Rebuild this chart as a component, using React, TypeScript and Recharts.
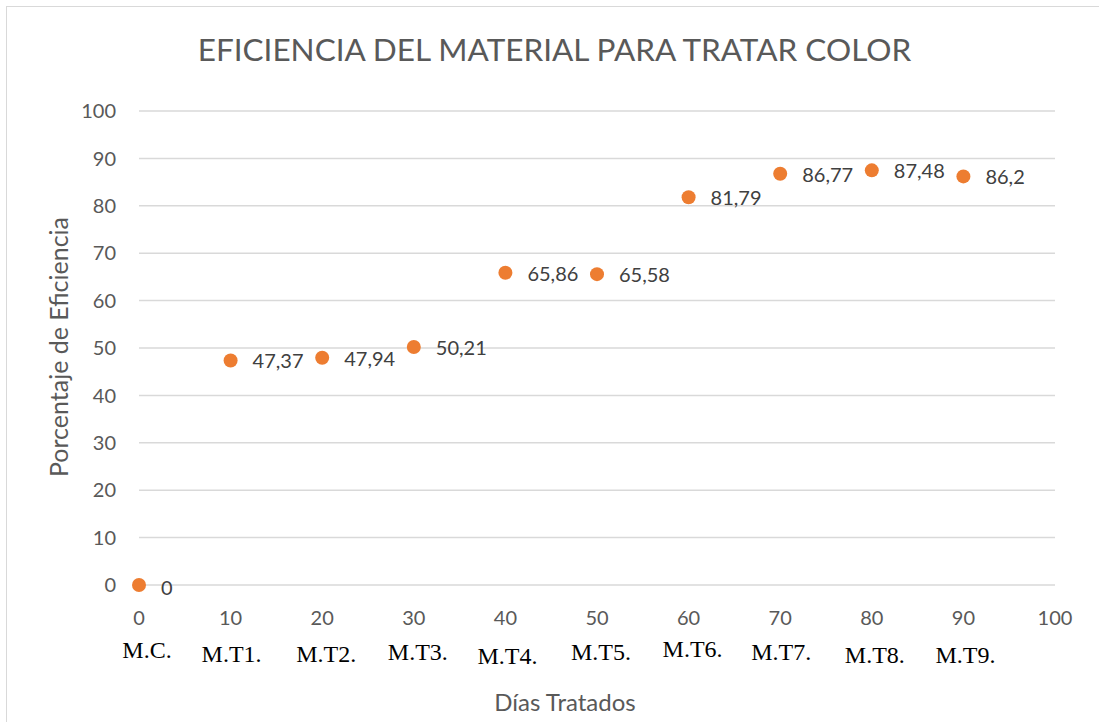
import React from "react";
import { ScatterChart, Scatter, XAxis, YAxis, CartesianGrid } from "recharts";

const days = [0, 10, 20, 30, 40, 50, 60, 70, 80, 90];
const efficiency = [0, 47.37, 47.94, 50.21, 65.86, 65.58, 81.79, 86.77, 87.48, 86.2];
const treatments = ["M.C.", "M.T1.", "M.T2.", "M.T3.", "M.T4.", "M.T5.", "M.T6.", "M.T7.", "M.T8.", "M.T9."];
const xTicks = [0, 10, 20, 30, 40, 50, 60, 70, 80, 90, 100];
const yTicks = [0, 10, 20, 30, 40, 50, 60, 70, 80, 90, 100];

// the treatment names sit in loose text boxes in the original, not exactly aligned
const treatmentNudge = [
  [8, 0], [1, 4], [4, 4], [4, 2], [2, 6], [4, 2], [4, -1], [1, 2], [3, 5], [2, 5],
];

const data = days.map((d, i) => ({ day: d, eff: efficiency[i], name: treatments[i] }));

const SANS = "Lato, 'Noto Sans', sans-serif";
const ORANGE = "#ED7D31";
const GREY = "#595959";

const fmt = (v: number) => String(v).replace(".", ",");

const DayTick = (props: any) => {
  const { x, y, payload } = props;
  const idx = days.indexOf(payload.value);
  return (
    <g>
      <text x={x} y={y + 40} textAnchor="middle" fontFamily={SANS} fontSize={20} fill={GREY}>
        {payload.value}
      </text>
      {idx >= 0 && (
        <text
          x={x + treatmentNudge[idx][0]}
          y={y + 73 + treatmentNudge[idx][1]}
          textAnchor="middle"
          fontFamily="'Liberation Serif', 'Times New Roman', serif"
          fontSize={24}
          fill="#000"
        >
          {treatments[idx]}
        </text>
      )}
    </g>
  );
};

const Dot = (props: any) => {
  const { cx, cy, payload } = props;
  return (
    <g>
      <circle cx={cx} cy={cy} r={7} fill={ORANGE} />
      <text
        x={cx + 22}
        y={cy + (payload.eff === 0 ? 10 : 8)}
        fontFamily={SANS}
        fontSize={20}
        fill="#404040"
      >
        {fmt(payload.eff)}
      </text>
    </g>
  );
};

export default function App() {
  return (
    <div
      style={{
        position: "absolute",
        left: 0,
        top: 0,
        width: 1099,
        height: 722,
        overflow: "hidden",
        background: "#fff",
      }}
    >
      <div
        style={{
          position: "absolute",
          left: 6,
          top: 6,
          width: 1110,
          height: 730,
          border: "1px solid #d9d9d9",
        }}
      />
      <div
        style={{
          position: "absolute",
          left: 0,
          top: 29,
          width: 1109,
          textAlign: "center",
          fontFamily: SANS,
          fontSize: 31.5,
          color: GREY,
          lineHeight: "40px",
        }}
      >
        EFICIENCIA DEL MATERIAL PARA TRATAR COLOR
      </div>
      <div
        style={{
          position: "absolute",
          left: 565 - 150,
          top: 687,
          width: 300,
          textAlign: "center",
          fontFamily: SANS,
          fontSize: 24,
          color: GREY,
          lineHeight: "30px",
        }}
      >
        Días Tratados
      </div>
      <div
        style={{
          position: "absolute",
          left: 58 - 200,
          top: 347 - 15,
          width: 400,
          textAlign: "center",
          fontFamily: SANS,
          fontSize: 25,
          color: GREY,
          lineHeight: "30px",
          transform: "rotate(-90deg)",
        }}
      >
        Porcentaje de Eficiencia
      </div>
      <div style={{ position: "absolute", left: 0, top: 0 }}>
        <ScatterChart
          width={1099}
          height={722}
          margin={{ top: 111, right: 44, bottom: 0, left: 59 }}
        >
          <CartesianGrid vertical={false} stroke="#d9d9d9" strokeWidth={1.5} />
          <XAxis
            type="number"
            dataKey="day"
            domain={[0, 100]}
            ticks={xTicks}
            axisLine={false}
            tickLine={false}
            tickSize={0}
            tickMargin={0}
            height={137}
            interval={0}
            tick={<DayTick />}
          />
          <YAxis
            type="number"
            dataKey="eff"
            domain={[0, 100]}
            ticks={yTicks}
            axisLine={false}
            tickLine={false}
            tickSize={0}
            tickMargin={23}
            width={80}
            interval={0}
            tick={{ fontFamily: SANS, fontSize: 20, fill: GREY }}
          />
          <Scatter data={data} fill={ORANGE} shape={<Dot />} isAnimationActive={false} />
        </ScatterChart>
      </div>
    </div>
  );
}
